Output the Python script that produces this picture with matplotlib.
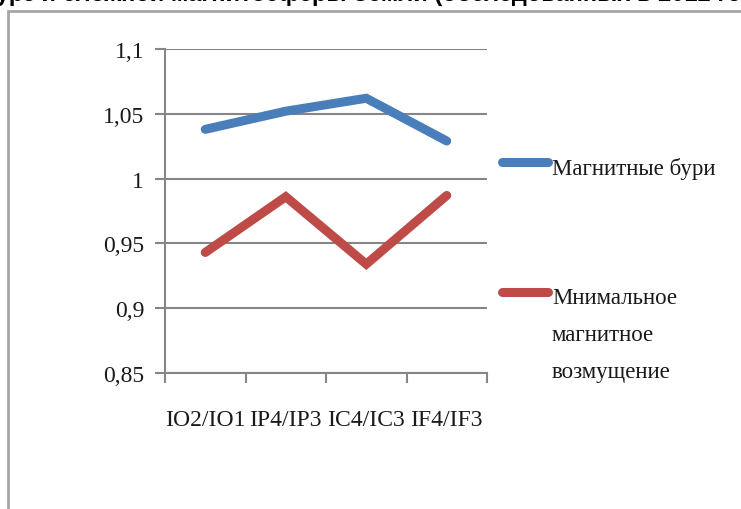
import numpy as np
import matplotlib.pyplot as plt
from matplotlib.patches import Rectangle
from matplotlib.lines import Line2D

categories = ['IO2/IO1', 'IP4/IP3', 'IC4/IC3', 'IF4/IF3']
storms = [1.038, 1.052, 1.062, 1.029]
quiet = [0.943, 0.986, 0.934, 0.987]
yticks = [0.85, 0.9, 0.95, 1.0, 1.05, 1.1]
ylabels = ['0,85', '0,9', '0,95', '1', '1,05', '1,1']
names = ['Магнитные бури', 'Мнимальное\nмагнитное\nвозмущение']
colors = ['#4a7ebb', '#be4b48']

serif = 'Liberation Serif'
txt = '#1a1a1a'
fig = plt.figure(figsize=(7.41, 5.10), dpi=100)
ax = fig.add_axes([165/741, 1-374/510, (487-165)/741, (374-50)/510])

x = np.arange(len(categories))
ax.plot(x, storms, color=colors[0], lw=6.5, solid_capstyle='round', solid_joinstyle='miter')
ax.plot(x, quiet, color=colors[1], lw=6.5, solid_capstyle='round', solid_joinstyle='miter')

ax.set_xlim(-0.5, len(categories) - 0.5)
ax.set_ylim(0.85, 1.1)
ax.set_yticks(yticks)
ax.set_yticklabels(ylabels, fontfamily=serif, fontsize=17, color=txt)
ax.yaxis.grid(True, color='#868686', lw=1.5)
ax.set_axisbelow(True)

# границы категорий - большие деления, подписи - малые
ax.set_xticks(np.arange(-0.5, len(categories)))
ax.set_xticklabels([])
ax.set_xticks(x, minor=True)
ax.set_xticklabels(categories, minor=True, fontfamily=serif, fontsize=17, color=txt)
ax.tick_params(axis='x', which='minor', length=0, pad=26)
ax.tick_params(axis='x', which='major', length=7, width=1.5, color='#868686')
ax.tick_params(axis='y', length=7, width=1.5, color='#868686', pad=8)

for s in ['top', 'right']:
    ax.spines[s].set_visible(False)
for s in ['left', 'bottom']:
    ax.spines[s].set_color('#868686')
    ax.spines[s].set_linewidth(1.5)

# легенда вручную
for name, c, ly in zip(names, colors, [163, 293]):
    yy = 1 - ly/510
    fig.add_artist(Line2D([502/741, 548/741], [yy, yy], color=c, lw=6.5,
                          solid_capstyle='round', transform=fig.transFigure))
    fig.text(552/741, 1 - (ly - 5)/510, name, fontfamily=serif, fontsize=16.5,
             color=txt, va='top', ha='left', linespacing=2.0)

# рамка области диаграммы
fig.add_artist(Rectangle((8/741, -0.2), 1.2, 1.2 - 12/510, transform=fig.transFigure,
                         fill=False, ec='#a6a6a6', lw=2, clip_on=False))

# обрезанный сверху заголовок
fig.text(-0.005, 1 - 1/510, 'урз и сложной магнитосферы Земли (обследованных в 2012 году)',
         fontfamily='Liberation Sans', fontweight='bold', fontsize=17, va='baseline', ha='left')

fig.savefig('out.png', dpi=100)
